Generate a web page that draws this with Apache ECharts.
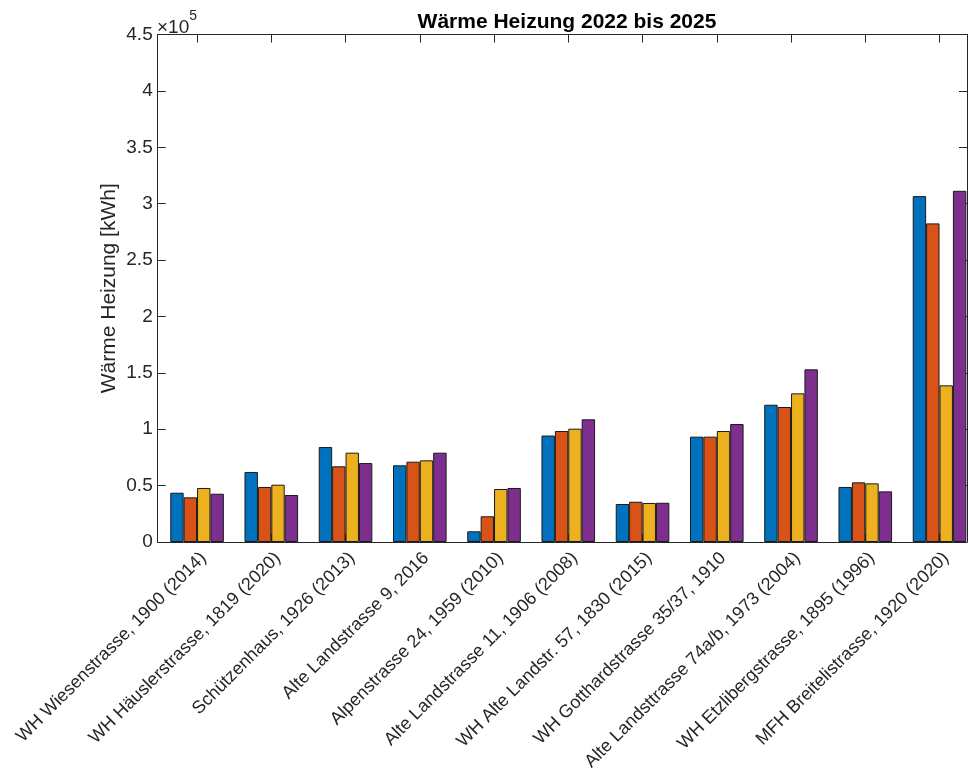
<!DOCTYPE html>
<html>
<head>
<meta charset="utf-8">
<script src="https://cdn.jsdelivr.net/npm/echarts@6/dist/echarts.min.js"></script>
<style>
  html, body { margin: 0; padding: 0; background: #fff; }
  #chart { width: 969px; height: 783px; }
</style>
</head>
<body>
<div id="chart"></div>
<script>
// Buildings (category labels)
const categories = [
  'WH Wiesenstrasse, 1900 (2014)',
  'WH Häuslerstrasse, 1819 (2020)',
  'Schützenhaus, 1926 (2013)',
  'Alte Landstrasse 9, 2016',
  'Alpenstrasse 24, 1959 (2010)',
  'Alte Landstrasse 11, 1906 (2008)',
  'WH Alte Landstr. 57, 1830 (2015)',
  'WH Gotthardstrasse 35/37, 1910',
  'Alte Landsttrasse 74a/b, 1973 (2004)',
  'WH Etzlibergstrasse, 1895 (1996)',
  'MFH Breitelistrasse, 1920 (2020)'
];

// Heat consumption per year [kWh]
const y2022 = [43700, 62100, 84200, 68000, 9500, 94400, 33700, 93400, 121700, 48800, 306700];
const y2023 = [39600, 48800, 67100, 71200, 22800, 98400, 35700, 93400, 119700, 52900, 282500];
const y2024 = [47900, 50800, 79200, 72400, 47000, 100500, 34600, 98400, 131800, 52000, 138900];
const y2025 = [42800, 41700, 70000, 79200, 47900, 108800, 34800, 104600, 153100, 44900, 311400];

const yTicks = [0, 50000, 100000, 150000, 200000, 250000, 300000, 350000, 400000, 450000];

const seriesNames = ['2022', '2023', '2024', '2025'];
const seriesValues = [y2022, y2023, y2024, y2025];
const colors = ['#0072BD', '#D95319', '#EDB120', '#7E2F8E'];

const positions = categories.map((_, i) => i + 1);
const FONT = '"Liberation Sans", Arial, Helvetica, sans-serif';
const INK = '#262626';

const chart = echarts.init(document.getElementById('chart'), null, { renderer: 'canvas' });

const xCommon = {
  type: 'value',
  min: 0.47,
  max: 11.37,
  splitLine: { show: false },
  axisLine: { show: true, onZero: false, lineStyle: { color: INK, width: 1 } }
};

const yCommon = {
  type: 'value',
  min: 0,
  max: 450000,
  interval: 50000,
  splitLine: { show: false },
  axisLine: { show: true, onZero: false, lineStyle: { color: INK, width: 1 } }
};

chart.setOption({
  animation: false,
  backgroundColor: '#ffffff',
  textStyle: { fontFamily: FONT },
  title: {
    text: 'Wärme Heizung 2022 bis 2025',
    left: 562,
    textAlign: 'center',
    top: 7,
    textStyle: { fontFamily: FONT, fontSize: 21, fontWeight: 'bold', color: '#000' }
  },
  grid: { left: 157.7, right: 2, top: 34.5, bottom: 241 },
  xAxis: [
    Object.assign({}, xCommon, {
      position: 'bottom',
      axisTick: { show: true, inside: true, length: 8, customValues: positions, lineStyle: { color: INK } },
      axisLabel: {
        show: true,
        customValues: positions,
        rotate: 45,
        margin: 7,
        align: 'right',
        verticalAlign: 'top',
        fontSize: 18,
        fontFamily: FONT,
        color: INK,
        formatter: v => categories[Math.round(v) - 1] || ''
      }
    }),
    Object.assign({}, xCommon, {
      position: 'top',
      axisTick: { show: true, inside: true, length: 8, customValues: positions, lineStyle: { color: INK } },
      axisLabel: { show: false }
    })
  ],
  yAxis: [
    Object.assign({}, yCommon, {
      position: 'left',
      name: 'Wärme Heizung [kWh]',
      nameLocation: 'middle',
      nameGap: 38,
      nameMoveOverlap: false,
      nameTextStyle: { fontFamily: FONT, fontSize: 21, color: INK },
      axisTick: { show: true, inside: true, length: 8, lineStyle: { color: INK } },
      axisLabel: {
        show: true,
        fontSize: 19,
        fontFamily: FONT,
        color: INK,
        margin: 5,
        customValues: yTicks,
        formatter: v => String(v / 100000)
      }
    }),
    Object.assign({}, yCommon, {
      position: 'right',
      axisTick: { show: true, inside: true, length: 8, lineStyle: { color: INK } },
      axisLabel: { show: false }
    })
  ],
  series: seriesValues.map((vals, k) => ({
    name: seriesNames[k],
    type: 'bar',
    xAxisIndex: 0,
    yAxisIndex: 0,
    barWidth: 13.4,
    barGap: '0%',
    data: vals.map((v, i) => [positions[i], v]),
    itemStyle: { color: colors[k], borderColor: '#1a1a1a', borderWidth: 1 }
  })),
  graphic: [
    {
      type: 'text',
      left: 157,
      top: 9,
      style: {
        text: '{a|×10}{b|5}',
        rich: {
          a: { fontFamily: FONT, fontSize: 19, fill: INK, verticalAlign: 'bottom', padding: [9, 0, 0, 0] },
          b: { fontFamily: FONT, fontSize: 14, fill: INK, verticalAlign: 'top' }
        }
      }
    }
  ]
});
</script>
</body>
</html>
